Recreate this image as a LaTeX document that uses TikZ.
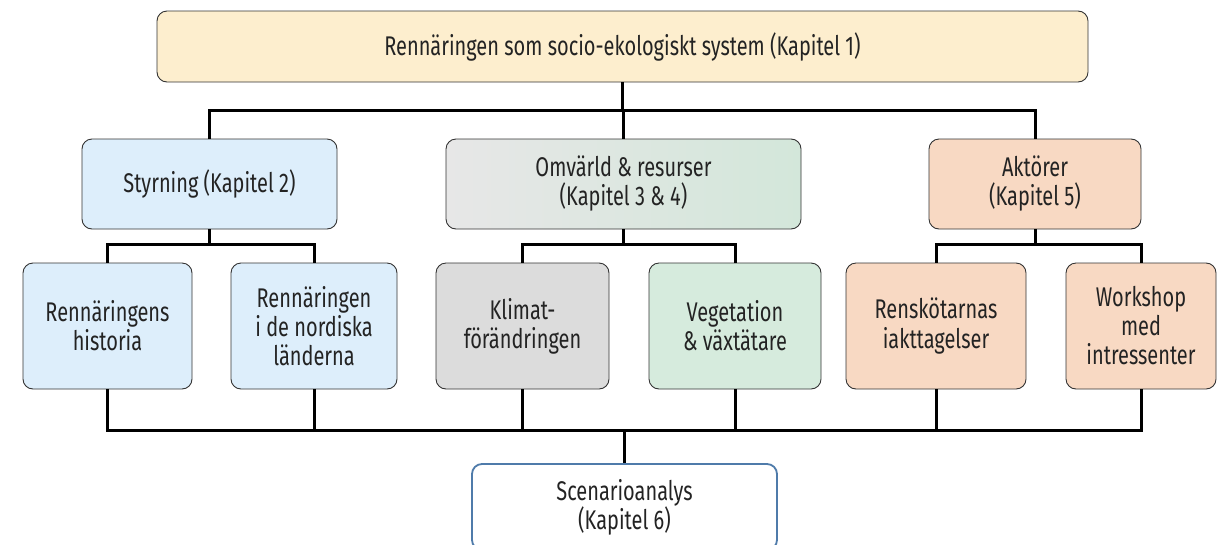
\documentclass[tikz,border=0pt]{standalone}
\usepackage{fontspec}
\setmainfont{Fira Sans}[FakeStretch=0.74]
\definecolor{cTop}{RGB}{253,238,206}
\definecolor{cBlue}{RGB}{221,238,251}
\definecolor{cGrayL}{RGB}{231,231,231}
\definecolor{cGreenR}{RGB}{211,231,218}
\definecolor{cGray}{RGB}{220,220,220}
\definecolor{cGreen}{RGB}{214,235,221}
\definecolor{cPeach}{RGB}{248,217,195}
\definecolor{cScen}{RGB}{79,123,170}
\definecolor{cText}{RGB}{35,35,35}
\begin{document}
\begin{tikzpicture}[x=1pt,y=-1pt,
  box/.style={draw=black!80, line width=0.9pt, rounded corners=10pt, align=center,
    text=cText, font=\fontsize{27}{29}\selectfont, inner sep=0pt},
  conn/.style={line width=3pt, black}]
\useasboundingbox (0,0) rectangle (1217,544);
\clip (0,0) rectangle (1217,544);
% top
\node[box, fill=cTop, minimum width=931pt, minimum height=71pt] (top) at (622.5,46.5)
  {Rennäringen som socio-ekologiskt system (Kapitel 1)};
% middle row
\node[box, fill=cBlue, minimum width=255pt, minimum height=90pt] (sty) at (209.5,184)
  {Styrning (Kapitel 2)};
\node[box, left color=cGrayL, right color=cGreenR, minimum width=355pt, minimum height=90pt] (omv) at (623.5,184)
  {Omvärld \& resurser\\(Kapitel 3 \& 4)};
\node[box, fill=cPeach, minimum width=212pt, minimum height=90pt] (akt) at (1035,184)
  {Aktörer\\(Kapitel 5)};
% bottom row
\node[box, fill=cBlue, minimum width=169pt, minimum height=126pt] (b1) at (107.5,326)
  {Rennäringens\\historia};
\node[box, fill=cBlue, minimum width=166pt, minimum height=126pt] (b2) at (314,326)
  {Rennäringen\\i de nordiska\\länderna};
\node[box, fill=cGray, minimum width=173pt, minimum height=126pt] (b3) at (522.5,326)
  {Klimat-\\förändringen};
\node[box, fill=cGreen, minimum width=172pt, minimum height=126pt] (b4) at (735,326)
  {Vegetation\\\& växtätare};
\node[box, fill=cPeach, minimum width=180pt, minimum height=126pt] (b5) at (936,326)
  {Renskötarnas\\iakttagelser};
\node[box, fill=cPeach, minimum width=150pt, minimum height=126pt] (b6) at (1141,326)
  {Workshop\\med\\intressenter};
% scenario
\node[box, draw=cScen, line width=1.8pt, fill=white, minimum width=305pt, minimum height=86pt] (scen) at (624.5,507)
  {Scenarioanalys\\(Kapitel 6)};
% hubs
\coordinate (j1) at (622.5,110);
\coordinate (j2) at (209.5,244);
\coordinate (j3) at (623.5,244);
\coordinate (j4) at (1035,244);
\coordinate (jb) at (624.5,430);
% connectors
\draw[conn] (top.south) -- (j1);
\draw[conn] (sty.north) |- (j1) -| (akt.north);
\draw[conn] (omv.north) -- (omv.north |- j1);
\draw[conn] (sty.south) -- (j2);
\draw[conn] (b1.north) |- (j2) -| (b2.north);
\draw[conn] (omv.south) -- (j3);
\draw[conn] (b3.north) |- (j3) -| (b4.north);
\draw[conn] (akt.south) -- (j4);
\draw[conn] (b5.north) |- (j4) -| (b6.north);
\draw[conn] (b1.south) |- (jb) -| (b6.south);
\draw[conn] (b2.south) -- (b2.south |- jb);
\draw[conn] (b3.south) -- (b3.south |- jb);
\draw[conn] (b4.south) -- (b4.south |- jb);
\draw[conn] (b5.south) -- (b5.south |- jb);
\draw[conn] (jb) -- (scen.north);
\end{tikzpicture}
\end{document}
